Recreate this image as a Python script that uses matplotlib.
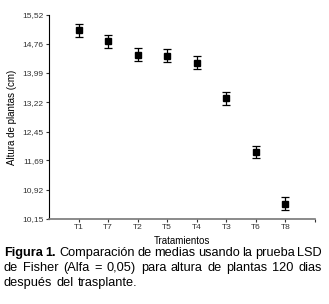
import matplotlib
matplotlib.use('Agg')
import matplotlib.pyplot as plt

plt.rcParams['font.family'] = ['Liberation Sans', 'DejaVu Sans']

# Datos
tratamientos = ['T1', 'T7', 'T2', 'T5', 'T4', 'T3', 'T6', 'T8']
altura_media = [15.12, 14.82, 14.47, 14.45, 14.26, 13.33, 11.91, 10.55]
error_est = [0.17, 0.17, 0.17, 0.17, 0.17, 0.17, 0.17, 0.17]
ticks_y = [10.15, 10.92, 11.69, 12.45, 13.22, 13.99, 14.76, 15.52]

W, H = 329, 304
fig = plt.figure(figsize=(W / 100, H / 100), dpi=100)
ax = fig.add_axes([0.149, 0.280, 0.808, 0.671])

x = list(range(1, len(tratamientos) + 1))
ax.errorbar(x, altura_media, yerr=error_est, fmt='s', color='black',
            markersize=5, capsize=3, elinewidth=0.9, capthick=0.9)

ax.set_xlim(0, 9)
ax.set_ylim(10.15, 15.52)
ax.set_xticks(x + [9])
ax.set_xticklabels(tratamientos + [''])
ax.set_yticks(ticks_y)
ax.set_yticklabels([f'{v:.2f}'.replace('.', ',') for v in ticks_y])

for lado in ['top', 'right']:
    ax.spines[lado].set_visible(False)
ax.spines['left'].set_color('black')
ax.spines['bottom'].set_color('#777777')
ax.spines['bottom'].set_linewidth(1.2)
ax.tick_params(labelsize=6, length=2, width=0.8, pad=2, colors='#333333')

ax.set_xlabel('Tratamientos', fontsize=7, labelpad=3)
ax.set_ylabel('Altura de plantas (cm)', fontsize=7, labelpad=4)

# Pie de figura (texto justificado)
fs = 9.2
x_izq, x_der = 4, 322
renderer = fig.canvas.get_renderer()


def linea_justificada(palabras, y_px, pesos, justificar=True):
    textos = []
    for p, w in zip(palabras, pesos):
        t = fig.text(0, 1 - y_px / H, p, fontsize=fs, fontweight=w,
                     va='center', ha='left')
        textos.append(t)
    anchos = [t.get_window_extent(renderer).width for t in textos]
    if justificar and len(textos) > 1:
        hueco = (x_der - x_izq - sum(anchos)) / (len(textos) - 1)
    else:
        hueco = 4
    pos = x_izq
    for t, a in zip(textos, anchos):
        t.set_x(pos / W)
        pos += a + hueco


l1 = ['Figura', '1.', 'Comparación', 'de', 'medias', 'usando', 'la', 'prueba', 'LSD']
linea_justificada(l1, 253, ['bold', 'bold'] + ['normal'] * 7)
l2 = ['de', 'Fisher', '(Alfa', '=', '0,05)', 'para', 'altura', 'de', 'plantas', '120', 'dias']
linea_justificada(l2, 268, ['normal'] * len(l2))
l3 = ['después', 'del', 'trasplante.']
linea_justificada(l3, 283, ['normal'] * len(l3), justificar=False)

fig.savefig('out.png', dpi=100)
